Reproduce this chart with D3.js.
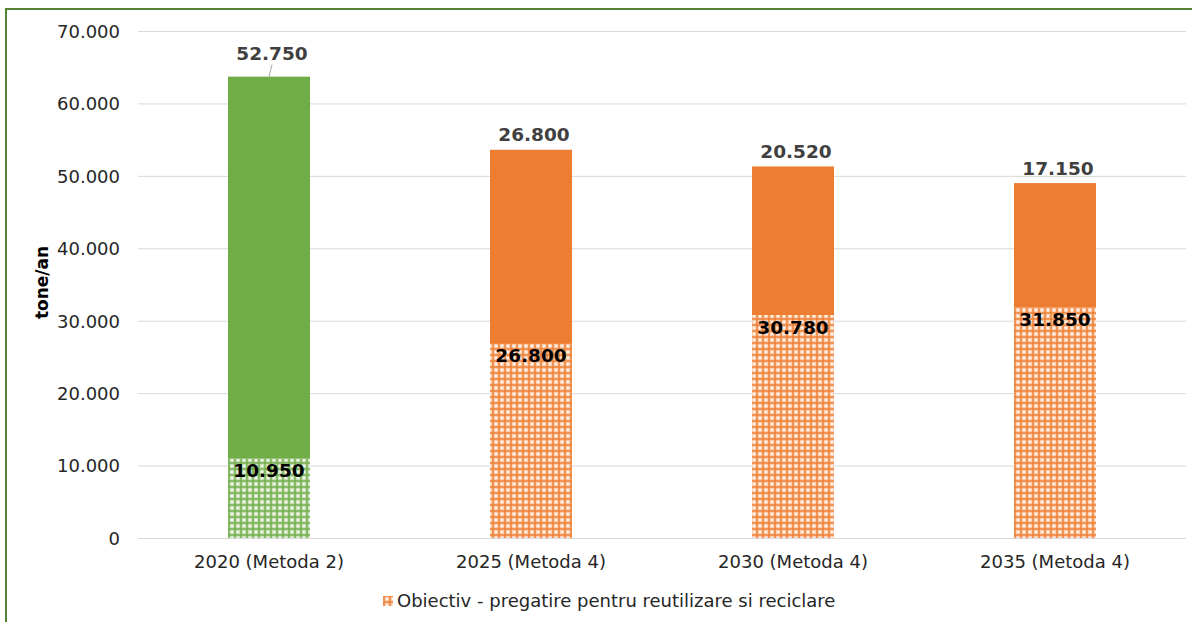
<!doctype html>
<html>
<head>
<meta charset="utf-8">
<title>tone/an</title>
<script src="https://cdn.jsdelivr.net/npm/d3@7"></script>
<style>
    body { margin: 0; background: white; }
    svg text { font-family: "DejaVu Sans", Verdana, sans-serif; }
    .lbl-top { font-size: 18.5px; font-weight: bold; fill: #404040; text-anchor: middle; }
    .lbl-bot { font-size: 18.5px; font-weight: bold; fill: #000; text-anchor: middle; }
</style>
</head>
<body>
<script>
    // data
    const categories = ["2020 (Metoda 2)", "2025 (Metoda 4)", "2030 (Metoda 4)", "2035 (Metoda 4)"];
    const objectiv = [10950, 26800, 30780, 31850];
    const restul = [52750, 26800, 20520, 17150];
    const yTicks = [0, 10000, 20000, 30000, 40000, 50000, 60000, 70000];
    const legendLabel = "Obiectiv - pregatire pentru reutilizare si reciclare";

    const width = 1192, height = 622;
    const margin = {left: 138, right: 6, top: 31, bottom: 84};

    const svg = d3.select("body").append("svg")
        .attr("width", width)
        .attr("height", height);

    const ro = d3.formatLocale({decimal: ",", thousands: ".", grouping: [3], currency: ["", " lei"]});
    const fmt = ro.format(",d");

    // colour per category (2020 is the green one)
    const colour = d3.scaleOrdinal()
        .domain(categories)
        .range(["#70ad47", "#ed7d31", "#ed7d31", "#ed7d31"]);

    // dotted-grid fill like Excel's pattern
    const defs = svg.append("defs");
    function pattern(id, c) {
        const p = defs.append("pattern")
            .attr("id", id)
            .attr("width", 6)
            .attr("height", 6)
            .attr("patternUnits", "userSpaceOnUse");
        p.append("rect").attr("width", 6).attr("height", 6).attr("fill", "white");
        p.append("rect").attr("width", 6).attr("height", 6).attr("fill", c).attr("opacity", 0.4);
        p.append("rect").attr("width", 6).attr("height", 2).attr("fill", c).attr("opacity", 0.7);
        p.append("rect").attr("width", 2).attr("height", 6).attr("fill", c).attr("opacity", 0.7);
        p.append("rect").attr("x", 3).attr("y", 3).attr("width", 2).attr("height", 2).attr("fill", "white").attr("opacity", 0.8);
    }
    pattern("pat-green", "#70ad47");
    pattern("pat-orange", "#ed7d31");
    const patFor = c => c === "#70ad47" ? "url(#pat-green)" : "url(#pat-orange)";

    // frame of the chart area, cropped at right and bottom
    svg.append("rect")
        .attr("x", 6)
        .attr("y", 9)
        .attr("width", 1300)
        .attr("height", 800)
        .attr("fill", "none")
        .attr("stroke", "#538135")
        .attr("stroke-width", 2);

    const x = d3.scaleBand()
        .domain(categories)
        .range([margin.left, width - margin.right])
        .paddingInner(0.687)
        .paddingOuter(0.3435);

    const y = d3.scaleLinear()
        .domain([0, 70000])
        .range([height - margin.bottom, margin.top]);

    // gridlines + tick labels
    const yAxis = svg.append("g")
        .attr("transform", `translate(${margin.left},0)`)
        .call(d3.axisLeft(y).tickValues(yTicks).tickFormat(fmt)
            .tickSize(-(width - margin.right - margin.left)).tickPadding(18));
    yAxis.select(".domain").remove();
    yAxis.selectAll(".tick line").attr("stroke", "#d9d9d9");
    yAxis.selectAll(".tick text")
        .attr("dy", "0.35em")
        .attr("font-size", 18)
        .attr("fill", "#262626");

    const xAxis = svg.append("g")
        .attr("transform", `translate(0,${height - margin.bottom})`)
        .call(d3.axisBottom(x).tickSize(0).tickPadding(17));
    xAxis.select(".domain").remove();
    xAxis.selectAll("text").attr("font-size", 18).attr("fill", "#262626");

    svg.append("text")
        .attr("transform", `translate(42,${y(35000) - 2}) rotate(-90)`)
        .attr("text-anchor", "middle")
        .attr("dy", "0.35em")
        .attr("font-size", 17)
        .attr("font-weight", "bold")
        .attr("fill", "#000")
        .text("tone/an");

    const rows = categories.map((c, i) => ({cat: c, lo: objectiv[i], hi: restul[i]}));

    const bars = svg.append("g").selectAll("g")
        .data(rows)
        .join("g");

    bars.append("rect")
        .attr("x", d => x(d.cat))
        .attr("width", x.bandwidth())
        .attr("y", d => y(d.lo))
        .attr("height", d => y(0) - y(d.lo))
        .attr("fill", d => patFor(colour(d.cat)));

    bars.append("rect")
        .attr("x", d => x(d.cat))
        .attr("width", x.bandwidth())
        .attr("y", d => y(d.lo + d.hi))
        .attr("height", d => y(d.lo) - y(d.lo + d.hi))
        .attr("fill", d => colour(d.cat));

    bars.append("text")
        .attr("class", "lbl-bot")
        .attr("x", d => x(d.cat) + x.bandwidth() / 2)
        .attr("y", d => y(d.lo) + 12)
        .attr("dy", "0.35em")
        .text(d => fmt(d.lo));

    // first top label was dragged up in the original, with a leader line
    const lift = (d, i) => i === 0 ? 23 : 15;
    bars.append("text")
        .attr("class", "lbl-top")
        .attr("x", d => x(d.cat) + x.bandwidth() / 2 + 3)
        .attr("y", (d, i) => y(d.lo + d.hi) - lift(d, i))
        .attr("dy", "0.35em")
        .text(d => fmt(d.hi));

    bars.filter((d, i) => i === 0).append("line")
        .attr("x1", d => x(d.cat) + x.bandwidth() / 2 + 3)
        .attr("y1", d => y(d.lo + d.hi) - 12)
        .attr("x2", d => x(d.cat) + x.bandwidth() / 2)
        .attr("y2", d => y(d.lo + d.hi))
        .attr("stroke", "#a6a6a6")
        .attr("stroke-width", 1);

    // legend
    const legend = svg.append("g").attr("transform", "translate(383,601)");
    legend.append("rect")
        .attr("x", 0)
        .attr("y", -5)
        .attr("width", 10)
        .attr("height", 10)
        .attr("fill", "url(#pat-orange)");
    legend.append("text")
        .attr("x", 14)
        .attr("dy", "0.35em")
        .attr("font-size", 18)
        .attr("fill", "#262626")
        .text(legendLabel);
</script>
</body>
</html>
